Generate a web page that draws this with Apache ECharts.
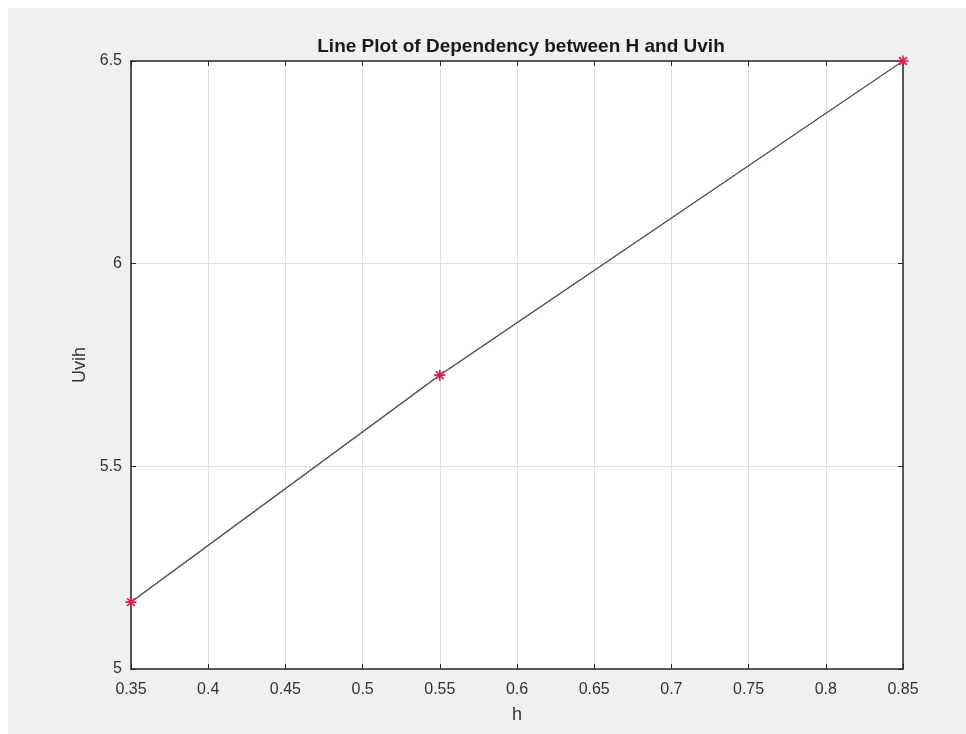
<!DOCTYPE html>
<html>
<head>
<meta charset="utf-8">
<script src="https://cdn.jsdelivr.net/npm/echarts@6/dist/echarts.min.js"></script>
<style>
    html, body { margin: 0; padding: 0; background: #ffffff; }
    #chart { position: absolute; left: 8px; top: 8px; width: 958px; height: 726px; }
</style>
</head>
<body>
<div id="chart"></div>
<script>
var hValues = [0.35, 0.55, 0.85];
var uvihValues = [5.165, 5.725, 6.5];
var xTicks = { min: 0.35, max: 0.85, step: 0.05 };
var yTicks = { min: 5, max: 6.5, step: 0.5 };

var points = [];
for (var i = 0; i < hValues.length; i++) {
    points.push([hValues[i], uvihValues[i]]);
}

var star = 'path://M0,-10L0,10M-10,0L10,0M-7,-7L7,7M-7,7L7,-7';
var labelFont = 'Liberation Sans';

function fmt(v) {
    return String(Math.round(v * 100) / 100);
}

var myChart = echarts.init(document.getElementById('chart'));
var option = {
    backgroundColor: '#f0f0f0',
    animation: false,
    title: {
        text: 'Line Plot of Dependency between H and Uvih',
        left: 508,
        top: 24,
        textAlign: 'center',
        textStyle: {
            fontFamily: labelFont,
            fontSize: 19,
            fontWeight: 'bold',
            color: '#1a1a1a'
        }
    },
    grid: {
        left: 123,
        right: 63,
        top: 53,
        bottom: 65,
        show: true,
        backgroundColor: '#ffffff',
        borderWidth: 0
    },
    xAxis: [
        {
            type: 'value',
            min: xTicks.min,
            max: xTicks.max,
            interval: xTicks.step,
            name: 'h',
            nameLocation: 'middle',
            nameGap: 37,
            nameTextStyle: { fontFamily: labelFont, fontSize: 18, color: '#333' },
            axisLine: { show: true, lineStyle: { color: '#262626', width: 1.5 } },
            axisTick: { show: true, inside: true, length: 5, lineStyle: { color: '#262626' } },
            axisLabel: { fontFamily: labelFont, fontSize: 16, color: '#333', margin: 13, formatter: fmt },
            splitLine: { show: true, lineStyle: { color: '#e0e0e0', width: 1 } }
        },
        {
            type: 'value',
            position: 'top',
            min: xTicks.min,
            max: xTicks.max,
            interval: xTicks.step,
            axisLine: { show: true, lineStyle: { color: '#262626', width: 1.5 } },
            axisTick: { show: true, inside: true, length: 5, lineStyle: { color: '#262626' } },
            axisLabel: { show: false },
            splitLine: { show: false }
        }
    ],
    yAxis: [
        {
            type: 'value',
            min: yTicks.min,
            max: yTicks.max,
            interval: yTicks.step,
            name: 'Uvih',
            nameLocation: 'middle',
            nameGap: 39,
            nameTextStyle: { fontFamily: labelFont, fontSize: 18, color: '#333' },
            axisLine: { show: true, lineStyle: { color: '#262626', width: 1.5 } },
            axisTick: { show: true, inside: true, length: 5, lineStyle: { color: '#262626' } },
            axisLabel: { fontFamily: labelFont, fontSize: 16, color: '#333', margin: 9, formatter: fmt },
            splitLine: { show: true, lineStyle: { color: '#e0e0e0', width: 1 } }
        },
        {
            type: 'value',
            position: 'right',
            min: yTicks.min,
            max: yTicks.max,
            interval: yTicks.step,
            axisLine: { show: true, lineStyle: { color: '#262626', width: 1.5 } },
            axisTick: { show: true, inside: true, length: 5, lineStyle: { color: '#262626' } },
            axisLabel: { show: false },
            splitLine: { show: false }
        }
    ],
    series: [
        {
            type: 'line',
            data: points,
            symbol: star,
            symbolSize: 11,
            showSymbol: true,
            itemStyle: { color: 'transparent', borderColor: '#e3194f', borderWidth: 1.6 },
            lineStyle: { color: '#4d5753', width: 1.3 },
            z: 5
        }
    ]
};
myChart.setOption(option);
</script>
</body>
</html>
